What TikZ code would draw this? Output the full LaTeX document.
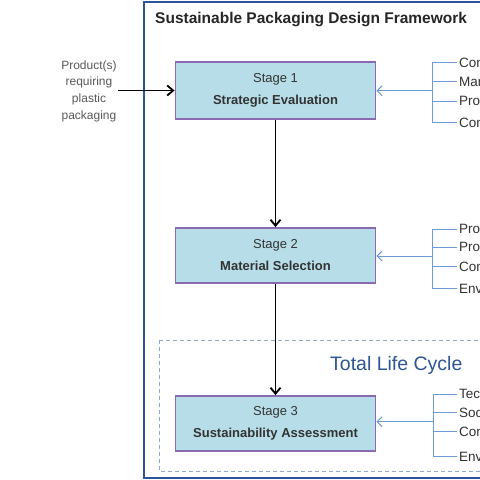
\documentclass[tikz,border=0pt]{standalone}
\usepackage{fontspec}
\setmainfont{Liberation Sans}
\usetikzlibrary{arrows.meta}
\definecolor{frameblue}{HTML}{2F5496}
\definecolor{boxfill}{HTML}{B7DEE8}
\definecolor{boxline}{HTML}{8A6BB3}
\definecolor{linkblue}{HTML}{6C9BD8}
\definecolor{dashblue}{HTML}{8FAACC}
\definecolor{txtgray}{HTML}{333333}
\definecolor{titleblue}{HTML}{2F5597}
\begin{document}
\begin{tikzpicture}[x=1pt,y=-1pt,
 stagebox/.style={draw=boxline, line width=1.8pt, fill=boxfill, minimum width=200pt, minimum height=55pt, align=center, font=\fontsize{13}{22}\selectfont, text=txtgray},
 flow/.style={draw=black, line width=1.8pt, -{Straight Barb[length=6pt,width=10pt]}},
 feed/.style={draw=linkblue, line width=1pt, -{Straight Barb[length=5pt,width=10pt]}},
 brk/.style={draw=linkblue, line width=1pt},
 item/.style={anchor=west, inner xsep=2pt, inner ysep=0pt, font=\fontsize{13.5}{15}\selectfont, text=txtgray}]
\useasboundingbox (0,0) rectangle (480,480);
\clip (0,0) rectangle (480,480);
\fill[white] (0,0) rectangle (480,480);
\draw[frameblue, line width=2pt] (144,2) rectangle (520,478);
\node[anchor=west, font=\bfseries\fontsize{15.5}{18}\selectfont, text=black!85, inner sep=0] (title) at (155,20) {Sustainable Packaging Design Framework};
\draw[dashblue, line width=1pt, dash pattern=on 4pt off 3pt] (159,340) rectangle (520,471);
\node[anchor=west, font=\fontsize{19.5}{22}\selectfont, text=titleblue, inner sep=0] (tlc) at (330,365) {Total Life Cycle};

\node[stagebox, minimum height=57pt] (s1) at (275.5,90.5) {Stage 1\\\textbf{Strategic Evaluation}};
\node[stagebox] (s2) at (275.5,255.5) {Stage 2\\\textbf{Material Selection}};
\node[stagebox] (s3) at (275.5,423.5) {Stage 3\\\textbf{Sustainability Assessment}};

\node[align=center, font=\fontsize{12}{16.7}\selectfont, text=black!65, inner xsep=1pt] (in) at (89,91) {Product(s)\\requiring\\plastic\\packaging};
\draw[flow] (in.east |- s1.west) -- (s1.west);
\draw[flow] (s1.south) -- (s2.north);
\draw[flow] (s2.south) -- (s3.north);

% Stage 1 inputs
\node[item] (a1) at (457,62.7) {Con};
\node[item] (a2) at (457,81.7) {Mar};
\node[item] (a3) at (457,101) {Pro};
\node[item] (a4) at (457,122.7) {Con};
\coordinate (ab) at (432,90.7);
\draw[brk] (a1.west -| ab) -- (a4.west -| ab);
\foreach \n in {a1,a2,a3,a4} \draw[brk] (\n.west -| ab) -- (\n.west);
\draw[feed] (ab) -- (ab -| s1.east);

% Stage 2 inputs
\node[item] (b1) at (457,229.3) {Pro};
\node[item] (b2) at (457,247.3) {Pro};
\node[item] (b3) at (457,266.5) {Con};
\node[item] (b4) at (457,288.5) {Env};
\coordinate (bb) at (432,256);
\draw[brk] (b1.west -| bb) -- (b4.west -| bb);
\foreach \n in {b1,b2,b3,b4} \draw[brk] (\n.west -| bb) -- (\n.west);
\draw[feed] (bb) -- (bb -| s2.east);

% Stage 3 inputs
\node[item] (c1) at (457,394) {Tec};
\node[item] (c2) at (457,412.7) {Soc};
\node[item] (c3) at (457,431.7) {Con};
\node[item] (c4) at (457,456.7) {Env};
\coordinate (cb) at (433,421.7);
\draw[brk] (c1.west -| cb) -- (c4.west -| cb);
\foreach \n in {c1,c2,c3,c4} \draw[brk] (\n.west -| cb) -- (\n.west);
\draw[feed] (cb) -- (cb -| s3.east);
\end{tikzpicture}
\end{document}
